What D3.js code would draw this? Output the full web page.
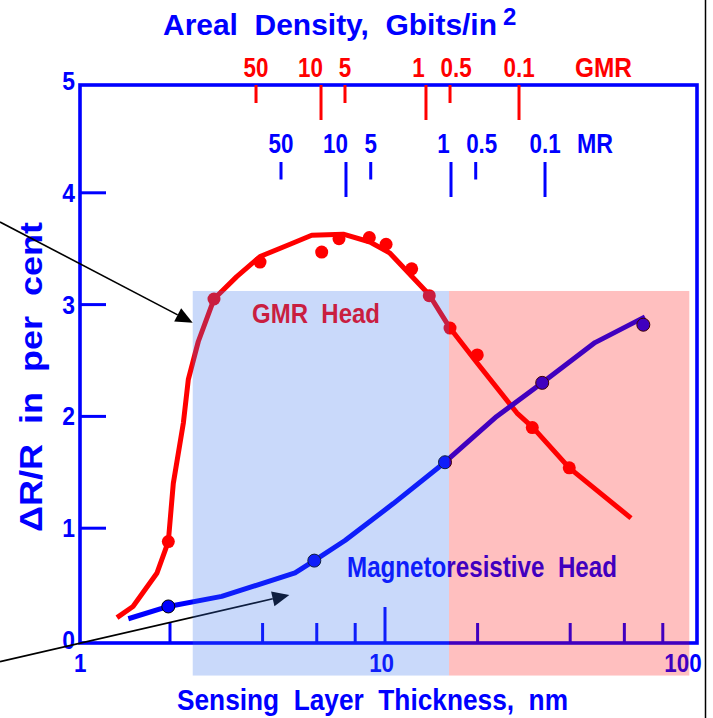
<!DOCTYPE html>
<html>
<head>
<meta charset="utf-8">
<script src="https://cdn.jsdelivr.net/npm/d3@7"></script>
<style>
  html, body { margin: 0; padding: 0; background: #fff; }
  svg { display: block; }
  text { font-family: "Liberation Sans", Arial, Helvetica, sans-serif; font-weight: bold; white-space: pre; }
</style>
</head>
<body>
<div id="chart"></div>
<script>
// ---- Data: sensing-layer thickness (nm) vs. ΔR/R (%) ----
const gmrCurveX = [1.345, 1.516, 1.815, 1.975, 2.05, 2.21, 2.294, 2.381, 2.472, 2.78, 3.296, 3.924, 4.912, 5.778, 7.318, 8.94, 10.38, 13.9, 16.27, 19.91, 26.86, 30.28, 39.72, 63.06];
const gmrCurveY = [0.20, 0.30, 0.60, 0.88, 1.40, 1.94, 2.33, 2.50, 2.67, 3.05, 3.25, 3.43, 3.54, 3.62, 3.63, 3.56, 3.46, 3.09, 2.79, 2.48, 2.03, 1.90, 1.54, 1.09];
const gmrPointX = [1.975, 2.78, 3.924, 6.226, 7.087, 8.893, 10.08, 12.21, 13.93, 16.27, 19.95, 30.12, 39.72];
const gmrPointY = [0.88, 3.05, 3.38, 3.47, 3.59, 3.60, 3.54, 3.32, 3.08, 2.79, 2.55, 1.90, 1.54];

const mrCurveX = [1.464, 1.975, 2.945, 5.099, 5.891, 7.412, 10.64, 15.67, 23.07, 32.44, 48.16, 70.0];
const mrCurveY = [0.19, 0.30, 0.39, 0.60, 0.71, 0.89, 1.22, 1.59, 2.00, 2.30, 2.66, 2.89];
const mrPointX = [1.975, 5.891, 15.67, 32.44, 69.15];
const mrPointY = [0.30, 0.71, 1.59, 2.30, 2.82];

// Areal density (Gbits/in²) marked at the thickness it corresponds to
const densityLabels = ["50", "10", "5", "1", "0.5", "0.1"];
const densityMajor = ["10", "1", "0.1"];
const gmrDensityAt = [3.808, 6.194, 7.412, 13.59, 16.27, 27.27];
const mrDensityAt = [4.591, 7.467, 8.987, 16.39, 19.72, 33.13];

// Axis ticks
const thicknessTicks = [2, 4, 6, 8, 10, 20, 40, 60, 80];
const thicknessMajor = [10];
const thicknessLabels = [1, 10, 100];
const ratioTicks = [1, 2, 3, 4];
const ratioLabels = [0, 1, 2, 3, 4, 5];

// Shaded thickness bands [from, to] and their vertical extent (ΔR/R)
const blueBand = [2.371, 16.15];
const pinkBand = [16.15, 97.56];
const bandSpan = [-0.318, 3.122];

// Pointer arrows: [thickness, ΔR/R] start and tip
const arrowFrom = [[0.5603, 3.739], [0.5603, -0.194]];
const arrowTo = [[2.371, 2.838], [4.886, 0.4025]];

// ---- Layout ----
const W = 713, H = 718;
const frame = { left: 80, right: 697, top: 85, bottom: 643 };
const BLUE = "#0000ff", RED = "#ff0000";

const x = d3.scaleLog().domain([1, 100]).range([77.4, 692.6]);
const y = d3.scaleLinear().domain([0, 5]).range([640, 81]);

const svg = d3.select("#chart").append("svg")
  .attr("width", W).attr("height", H)
  .attr("viewBox", `0 0 ${W} ${H}`);

// text helper: anchor point, font size, horizontal squeeze
function label(g, str, px, py, opts) {
  const o = Object.assign({ size: 26, anchor: "middle", fill: BLUE, sx: 1 }, opts);
  const t = g.append("text")
    .attr("transform", `translate(${px},${py}) scale(${o.sx},1)`)
    .attr("text-anchor", o.anchor)
    .attr("font-size", o.size)
    .attr("fill", o.fill)
    .text(str);
  if (o.length) t.attr("textLength", o.length).attr("lengthAdjust", o.adjust || "spacingAndGlyphs");
  return t;
}

// ---- Frame ----
svg.append("rect")
  .attr("x", frame.left).attr("y", frame.top)
  .attr("width", frame.right - frame.left).attr("height", frame.bottom - frame.top)
  .attr("fill", "none").attr("stroke", BLUE).attr("stroke-width", 3.6);

// ---- Bottom axis (thickness) ----
svg.append("g").selectAll("line").data(thicknessTicks).join("line")
  .attr("x1", d => x(d)).attr("x2", d => x(d))
  .attr("y1", frame.bottom)
  .attr("y2", d => frame.bottom - (thicknessMajor.includes(d) ? 36 : 20))
  .attr("stroke", BLUE).attr("stroke-width", 3);

const xLab = svg.append("g");
thicknessLabels.forEach(v => label(xLab, String(v), x(v) + 9, 672, { size: 26, anchor: "end", sx: 0.86 }));

// ---- Left axis (ΔR/R) ----
svg.append("g").selectAll("line").data(ratioTicks).join("line")
  .attr("x1", frame.left).attr("x2", frame.left + 26)
  .attr("y1", d => y(d)).attr("y2", d => y(d))
  .attr("stroke", BLUE).attr("stroke-width", 3);

const yLab = svg.append("g");
ratioLabels.forEach(v => label(yLab, String(v), 75, y(v) + 9, { size: 26, anchor: "end", sx: 0.88 }));

// ---- Top density scales ----
const labelNudge = { "10": -10.5, "1": -7.5, "0.5": 6 };

const gmrTop = svg.append("g");
gmrTop.selectAll("line").data(densityLabels).join("line")
  .attr("x1", (d, i) => x(gmrDensityAt[i])).attr("x2", (d, i) => x(gmrDensityAt[i]))
  .attr("y1", frame.top)
  .attr("y2", d => frame.top + (densityMajor.includes(d) ? 35 : 18))
  .attr("stroke", RED).attr("stroke-width", 3);
densityLabels.forEach((d, i) =>
  label(gmrTop, d, x(gmrDensityAt[i]) + (labelNudge[d] || 0), 77, { size: 28, fill: RED, sx: 0.8 }));
label(gmrTop, "GMR", 575, 77, { size: 28, anchor: "start", fill: RED, length: 57 });

const mrTop = svg.append("g");
mrTop.selectAll("line").data(densityLabels).join("line")
  .attr("x1", (d, i) => x(mrDensityAt[i])).attr("x2", (d, i) => x(mrDensityAt[i]))
  .attr("y1", 162)
  .attr("y2", d => 162 + (densityMajor.includes(d) ? 35 : 17.5))
  .attr("stroke", BLUE).attr("stroke-width", 3);
densityLabels.forEach((d, i) =>
  label(mrTop, d, x(mrDensityAt[i]) + (labelNudge[d] || 0), 153, { size: 28, fill: BLUE, sx: 0.8 }));
label(mrTop, "MR", 577, 153, { size: 28, anchor: "start", fill: BLUE, length: 36 });

// ---- Titles ----
label(svg, "Areal  Density,  Gbits/in", 163, 35, { size: 29, anchor: "start", length: 334 });
label(svg, "2", 503, 25, { size: 24, anchor: "start" });
label(svg, "Sensing  Layer  Thickness,  nm", 177, 710, { size: 30, anchor: "start", length: 391 });
svg.append("text")
  .attr("transform", "translate(42,532) rotate(-90)")
  .attr("text-anchor", "start").attr("font-size", 31).attr("fill", BLUE)
  .attr("textLength", 310).attr("lengthAdjust", "spacingAndGlyphs")
  .text("ΔR/R  in  per  cent");

// ---- Curves ----
const line = d3.line().x(d => x(d[0])).y(d => y(d[1]));

svg.append("path")
  .datum(gmrCurveX.map((v, i) => [v, gmrCurveY[i]]))
  .attr("d", line).attr("fill", "none")
  .attr("stroke", RED).attr("stroke-width", 5).attr("stroke-linejoin", "round");

svg.append("path")
  .datum(mrCurveX.map((v, i) => [v, mrCurveY[i]]))
  .attr("d", line).attr("fill", "none")
  .attr("stroke", BLUE).attr("stroke-width", 5).attr("stroke-linejoin", "round");

svg.append("g").selectAll("circle").data(gmrPointX).join("circle")
  .attr("cx", d => x(d)).attr("cy", (d, i) => y(gmrPointY[i]))
  .attr("r", 6.5).attr("fill", RED);

svg.append("g").selectAll("circle").data(mrPointX).join("circle")
  .attr("cx", d => x(d)).attr("cy", (d, i) => y(mrPointY[i]))
  .attr("r", 6.5).attr("fill", BLUE).attr("stroke", "#000").attr("stroke-width", 1);

// ---- In-plot labels ----
label(svg, "GMR  Head", 252, 323, { size: 27, anchor: "start", fill: RED, length: 128 });
label(svg, "Magnetoresistive  Head", 347, 577, { size: 29, anchor: "start", fill: BLUE, length: 270 });

// ---- Pointer arrows ----
const arrows = svg.append("g");
arrowFrom.forEach((a, i) => {
  const x0 = x(a[0]), y0 = y(a[1]);
  const x1 = x(arrowTo[i][0]), y1 = y(arrowTo[i][1]);
  const ang = Math.atan2(y1 - y0, x1 - x0);
  const L = 17, hw = 7.5;
  const bx = x1 - L * Math.cos(ang), by = y1 - L * Math.sin(ang);
  arrows.append("line")
    .attr("x1", x0).attr("y1", y0).attr("x2", bx).attr("y2", by)
    .attr("stroke", "#000").attr("stroke-width", 1.6);
  arrows.append("path")
    .attr("d", `M${x1},${y1}L${bx - hw * Math.sin(ang)},${by + hw * Math.cos(ang)}L${bx + hw * Math.sin(ang)},${by - hw * Math.cos(ang)}Z`)
    .attr("fill", "#000");
});

// ---- Translucent thickness bands (drawn over the marks) ----
svg.append("rect")
  .attr("x", x(blueBand[0])).attr("width", x(blueBand[1]) - x(blueBand[0]))
  .attr("y", y(bandSpan[1])).attr("height", y(bandSpan[0]) - y(bandSpan[1]))
  .attr("fill", "rgb(52,112,236)").attr("fill-opacity", 0.267);
svg.append("rect")
  .attr("x", x(pinkBand[0])).attr("width", x(pinkBand[1]) - x(pinkBand[0]))
  .attr("y", y(bandSpan[1])).attr("height", y(bandSpan[0]) - y(bandSpan[1]))
  .attr("fill", RED).attr("fill-opacity", 0.25);

// right-hand rule line
svg.append("line")
  .attr("x1", 705.5).attr("x2", 705.5).attr("y1", 0).attr("y2", H)
  .attr("stroke", "#000").attr("stroke-width", 1.5);
</script>
</body>
</html>
